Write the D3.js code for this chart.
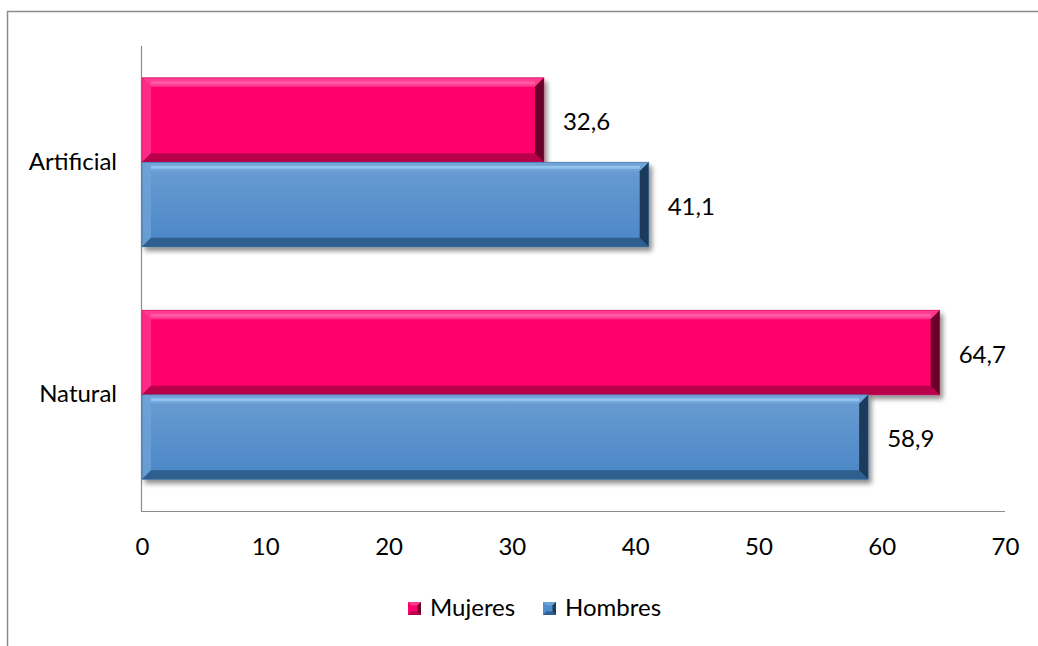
<!DOCTYPE html>
<html>
<head>
<meta charset="utf-8">
<script src="https://cdn.jsdelivr.net/npm/d3@7"></script>
<style>
  html, body { margin: 0; padding: 0; background: #fff; }
  svg { display: block; }
  text { font-family: Lato, "Open Sans", "Liberation Sans", sans-serif; fill: #000; }
</style>
</head>
<body>
<svg id="chart" width="1038" height="646"></svg>
<script>
// Data
const categories = ["Artificial", "Natural"];
const seriesNames = ["Mujeres", "Hombres"];
const mujeres = [32.6, 64.7];
const hombres = [41.1, 58.9];
const xTicks = [0, 10, 20, 30, 40, 50, 60, 70];

const seriesValues = [mujeres, hombres];
const palette = {
  Mujeres: { base: "#ff006c", light: "#ff3b8f", top: "#ff62a8", dark: "#b8004c", side: "#6a002c" },
  Hombres: { base: "#4f8ccb", light: "#6fa3d8", top: "#9ccaf5", dark: "#2f5f8f", side: "#1c3a5a" }
};
const FONT = 'Lato, "Open Sans", "Liberation Sans", sans-serif';
const FS = "24px";

const svg = d3.select("#chart");
const W = 1038, H = 646;

// outer frame (extends past the right and bottom edges)
svg.append("rect")
  .attr("x", 7.5).attr("y", 11.5)
  .attr("width", W + 20).attr("height", H + 20)
  .attr("fill", "none").attr("stroke", "#8c8c8c").attr("stroke-width", 1.5);

const plot = { left: 142, right: 1005, top: 46, bottom: 511 };

const x = d3.scaleLinear().domain([0, 70]).range([plot.left, plot.right]);
const y0 = d3.scaleBand().domain(categories).range([plot.top, plot.bottom]).paddingInner(0.273).paddingOuter(0.1365);
const y1 = d3.scaleBand().domain(seriesNames).range([0, y0.bandwidth()]);

const defs = svg.append("defs");
const shadow = defs.append("filter").attr("id", "shadow")
  .attr("x", "-5%").attr("y", "-10%").attr("width", "115%").attr("height", "140%");
shadow.append("feGaussianBlur").attr("in", "SourceAlpha").attr("stdDeviation", 2.5).attr("result", "blur");
shadow.append("feOffset").attr("in", "blur").attr("dx", 3).attr("dy", 4).attr("result", "off");
shadow.append("feComponentTransfer").attr("in", "off").attr("result", "soft")
  .append("feFuncA").attr("type", "linear").attr("slope", 0.45);
const merge = shadow.append("feMerge");
merge.append("feMergeNode").attr("in", "soft");
merge.append("feMergeNode").attr("in", "SourceGraphic");

seriesNames.forEach(name => {
  const c = palette[name];
  const g = defs.append("linearGradient").attr("id", "grad-" + name)
    .attr("x1", 0).attr("y1", 0).attr("x2", 0).attr("y2", 1);
  if (name === "Hombres") {
    g.append("stop").attr("offset", "0%").attr("stop-color", "#6a9dd2");
    g.append("stop").attr("offset", "100%").attr("stop-color", "#4a86c6");
  } else {
    g.append("stop").attr("offset", "0%").attr("stop-color", c.base);
    g.append("stop").attr("offset", "100%").attr("stop-color", c.base);
  }
});

// axes lines
svg.append("line")
  .attr("x1", plot.left - 0.5).attr("x2", plot.left - 0.5)
  .attr("y1", plot.top).attr("y2", plot.bottom)
  .attr("stroke", "#8c8c8c").attr("stroke-width", 1.2);
svg.append("line")
  .attr("x1", plot.left - 1).attr("x2", plot.right)
  .attr("y1", plot.bottom + 0.5).attr("y2", plot.bottom + 0.5)
  .attr("stroke", "#8c8c8c").attr("stroke-width", 1.2);

// x tick labels
const xAxis = svg.append("g").attr("transform", `translate(0,${plot.bottom})`)
  .call(d3.axisBottom(x).tickValues(xTicks).tickSize(0).tickPadding(27));
xAxis.select(".domain").remove();
xAxis.selectAll("text").style("font-size", FS).attr("fill", "#000").style("font-family", FONT);

// category labels
const yAxis = svg.append("g").attr("transform", `translate(${plot.left},0)`)
  .call(d3.axisLeft(y0).tickSize(0).tickPadding(25));
yAxis.select(".domain").remove();
yAxis.selectAll("text").style("font-size", FS).attr("fill", "#000").style("font-family", FONT);

// bevelled bar
function bevelBar(g, bx, by, bw, bh, c, gradId) {
  const b = Math.min(9, bw / 2, bh / 2);
  const grp = g.append("g").attr("filter", "url(#shadow)");
  grp.append("rect").attr("x", bx).attr("y", by).attr("width", bw).attr("height", bh)
    .attr("fill", `url(#${gradId})`);
  const x2 = bx + bw, y2 = by + bh;
  // top facet
  grp.append("polygon")
    .attr("points", [[bx, by], [x2, by], [x2 - b, by + b], [bx + b, by + b]].join(" "))
    .attr("fill", c.light);
  grp.append("line").attr("x1", bx + b).attr("x2", x2 - b).attr("y1", by + b * 0.55).attr("y2", by + b * 0.55)
    .attr("stroke", c.top).attr("stroke-width", 3).attr("opacity", 0.8);
  // left facet
  grp.append("polygon")
    .attr("points", [[bx, by], [bx + b, by + b], [bx + b, y2 - b], [bx, y2]].join(" "))
    .attr("fill", c.light).attr("opacity", 0.75);
  // bottom facet
  grp.append("polygon")
    .attr("points", [[bx, y2], [bx + b, y2 - b], [x2 - b, y2 - b], [x2, y2]].join(" "))
    .attr("fill", c.dark);
  // right facet
  grp.append("polygon")
    .attr("points", [[x2, by], [x2, y2], [x2 - b, y2 - b], [x2 - b, by + b]].join(" "))
    .attr("fill", c.side);
  grp.append("rect").attr("x", bx).attr("y", by).attr("width", bw).attr("height", bh)
    .attr("fill", "none").attr("stroke", c.dark).attr("stroke-width", 0.8).attr("opacity", 0.6);
}

const barsG = svg.append("g");
const labelsG = svg.append("g");
categories.forEach((cat, i) => {
  seriesNames.forEach((name, s) => {
    const v = seriesValues[s][i];
    const by = y0(cat) + y1(name);
    const bh = y1.bandwidth();
    bevelBar(barsG, x(0), by, x(v) - x(0), bh, palette[name], "grad-" + name);
    labelsG.append("text")
      .attr("x", x(v) + 19).attr("y", by + bh / 2 + 4)
      .attr("dominant-baseline", "middle")
      .style("font-size", FS)
      .text(d3.format(".1f")(v).replace(".", ","));
  });
});

// legend
const legend = svg.append("g");
const legendItems = [
  { name: "Mujeres", x: 408 },
  { name: "Hombres", x: 543 }
];
legendItems.forEach(item => {
  const c = palette[item.name];
  const sx = item.x, sy = 602, s = 13, h = 3.5;
  const lg = legend.append("g");
  lg.append("rect").attr("x", sx).attr("y", sy).attr("width", s).attr("height", s).attr("fill", c.base);
  lg.append("polygon").attr("points", [[sx, sy], [sx + s, sy], [sx + s - h, sy + h], [sx + h, sy + h]].join(" ")).attr("fill", c.light);
  lg.append("polygon").attr("points", [[sx, sy + s], [sx + h, sy + s - h], [sx + s - h, sy + s - h], [sx + s, sy + s]].join(" ")).attr("fill", c.dark);
  lg.append("polygon").attr("points", [[sx + s, sy], [sx + s, sy + s], [sx + s - h, sy + s - h], [sx + s - h, sy + h]].join(" ")).attr("fill", c.side);
  lg.append("text").attr("x", sx + 22).attr("y", sy + s / 2 + 1)
    .attr("dominant-baseline", "middle").style("font-size", FS).text(item.name);
});
</script>
</body>
</html>
